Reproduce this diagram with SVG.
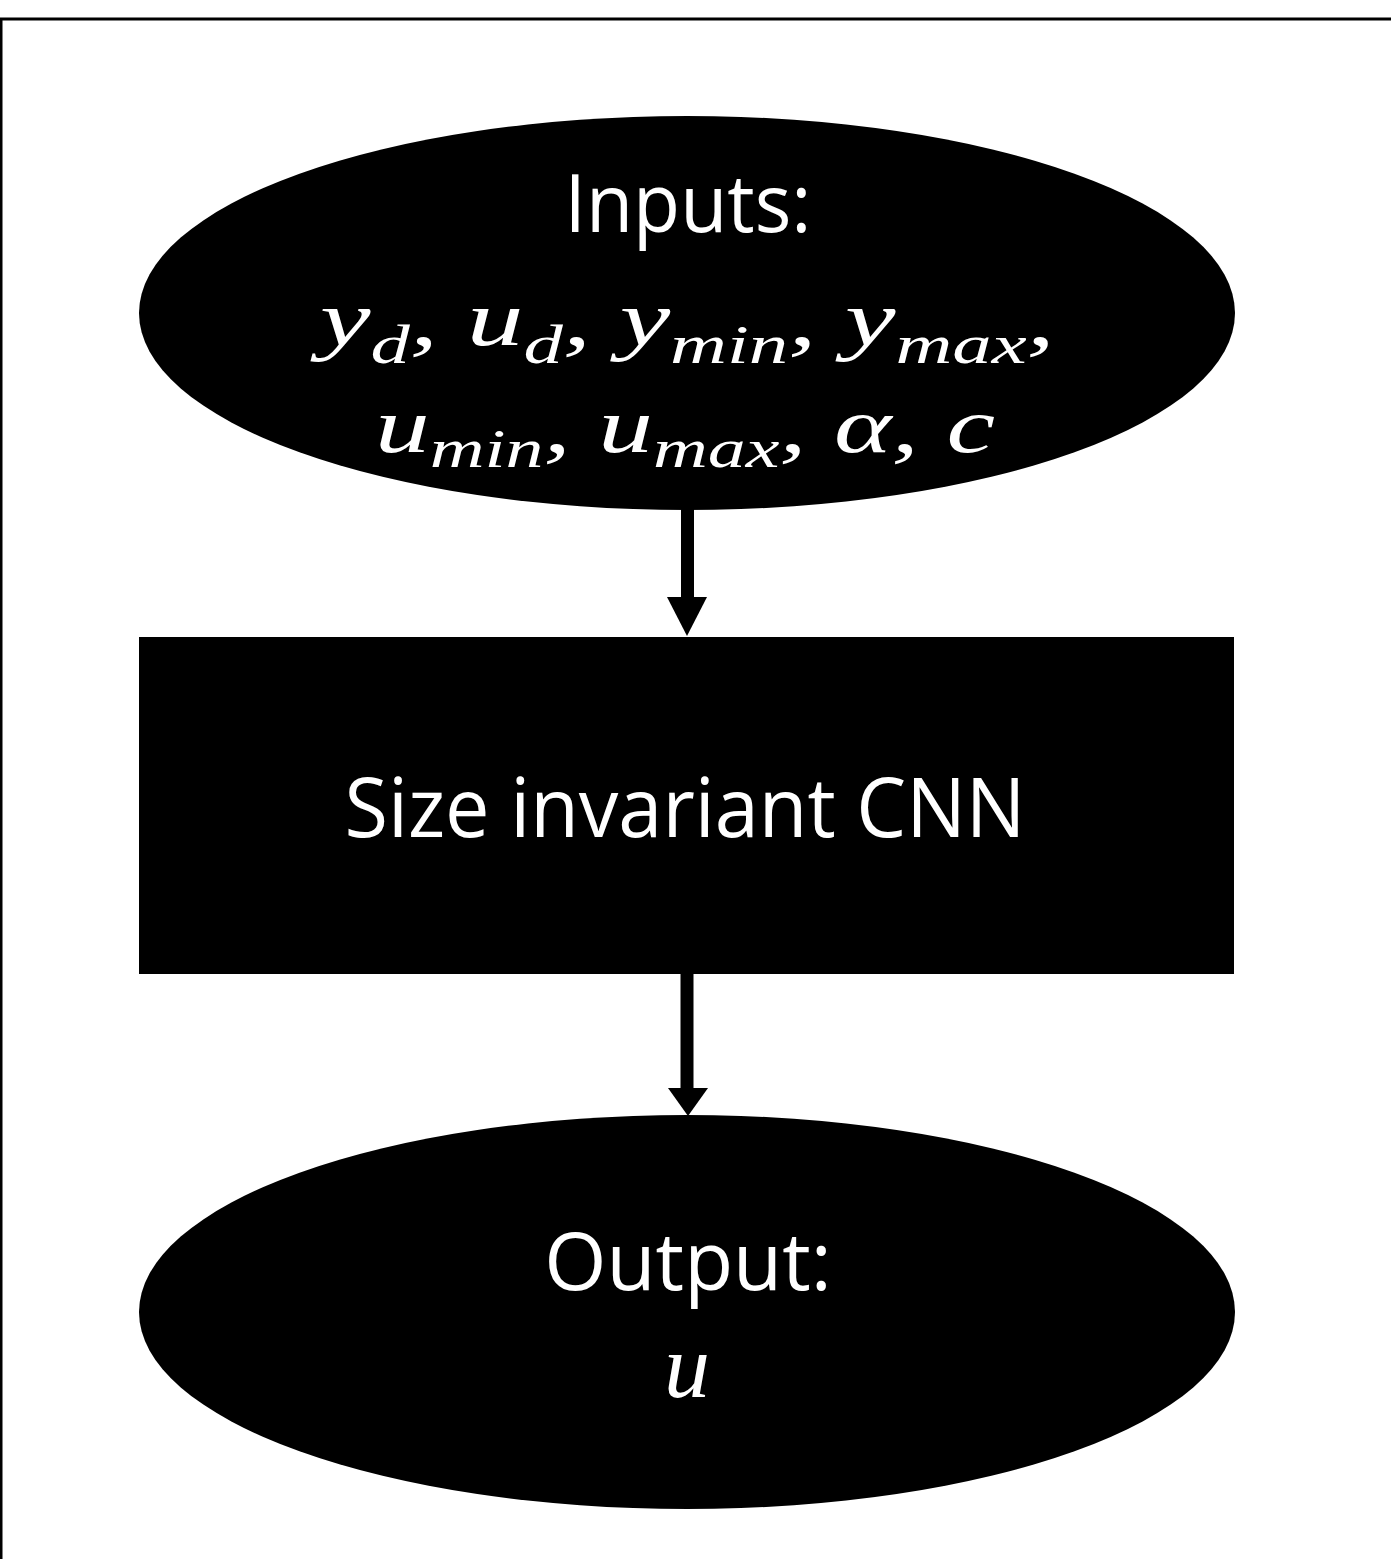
<svg xmlns="http://www.w3.org/2000/svg" width="1391" height="1559" viewBox="0 0 1391 1559">
<style>
.node{fill:#000}
.lbl{fill:#fff;font-family:"Open Sans","Liberation Sans",sans-serif;text-anchor:middle}
.math{fill:#fff;font-family:"Liberation Serif","DejaVu Serif",serif;font-style:italic}
.conn{stroke:#000;stroke-width:13;fill:none}
.head{fill:#000}
</style>
<rect width="1391" height="1559" fill="#fff"/>
<path d="M1 1559 V19 H1391" fill="none" stroke="#000" stroke-width="3"/>
<g id="inputs">
<ellipse class="node" cx="687" cy="313" rx="548" ry="197"/>
<text class="lbl" x="688" y="232" font-size="80" textLength="247" lengthAdjust="spacingAndGlyphs">Inputs:</text>
<text class="math" x="320" y="345" font-size="78" textLength="735" lengthAdjust="spacingAndGlyphs">y<tspan dy="18" font-size="54">d</tspan><tspan dy="-18">, u</tspan><tspan dy="18" font-size="54">d</tspan><tspan dy="-18">, y</tspan><tspan dy="18" font-size="54">min</tspan><tspan dy="-18">, y</tspan><tspan dy="18" font-size="54">max</tspan><tspan dy="-18">,</tspan></text>
<text class="math" x="375" y="452" font-size="78" textLength="620" lengthAdjust="spacingAndGlyphs">u<tspan dy="15" font-size="54">min</tspan><tspan dy="-15">, u</tspan><tspan dy="15" font-size="54">max</tspan><tspan dy="-15">, α, c</tspan></text>
</g>
<g id="cnn">
<rect class="node" x="139" y="637" width="1095" height="337"/>
<text class="lbl" x="685" y="837" font-size="82" textLength="681" lengthAdjust="spacingAndGlyphs">Size invariant CNN</text>
</g>
<g id="output">
<ellipse class="node" cx="687" cy="1312" rx="548" ry="197"/>
<text class="lbl" x="688" y="1290" font-size="80">Output:</text>
<text class="math" x="687" y="1397" font-size="92" text-anchor="middle">u</text>
</g>
<g id="connectors">
<line class="conn" x1="687.5" y1="505" x2="687.5" y2="600"/>
<polygon class="head" points="667,597 707,597 687,636"/>
<line class="conn" x1="687" y1="970" x2="687" y2="1090"/>
<polygon class="head" points="668,1088 708,1088 688,1116"/>
</g>
</svg>
